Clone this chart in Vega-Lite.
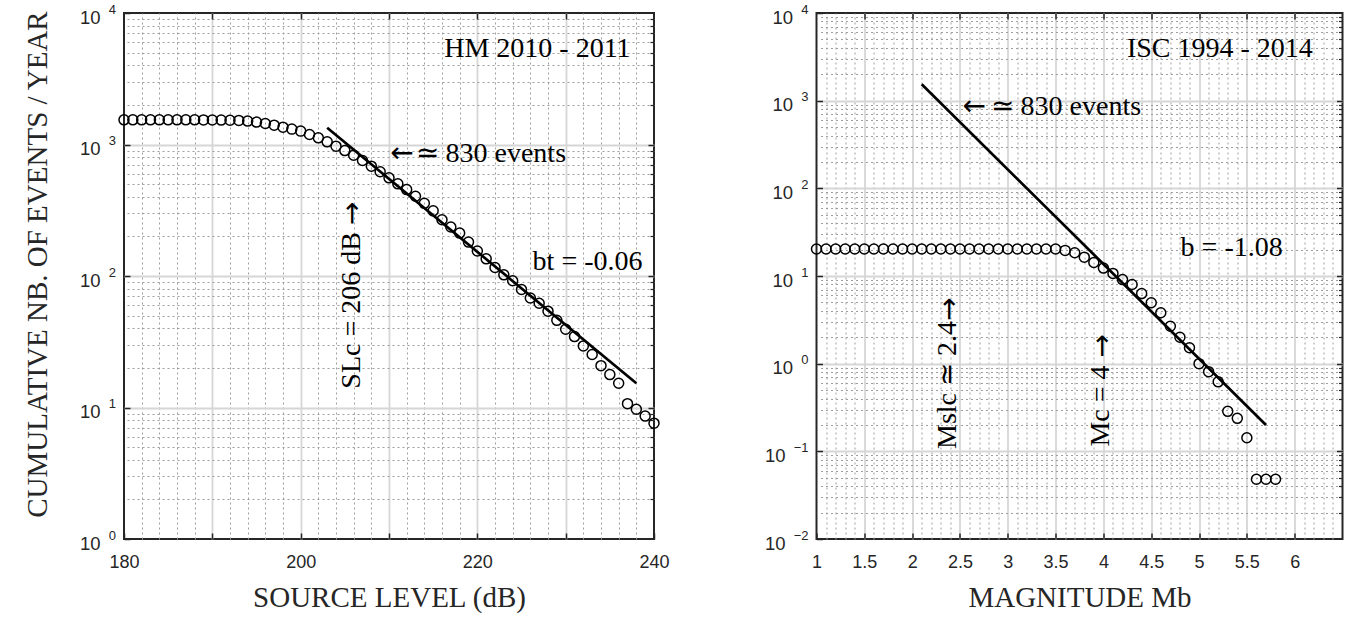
{
  "$schema": "https://vega.github.io/schema/vega-lite/v6.json",
  "background": "#ffffff",
  "autosize": {"type": "pad"},
  "padding": {"left": 21, "top": 2, "right": 4, "bottom": 0},
  "bounds": "flush",
  "spacing": 162.5,
  "config": {
    "view": {"stroke": "#262626", "strokeWidth": 2},
    "axis": {
      "domain": false,
      "labelFont": "Liberation Sans",
      "labelFontSize": 18,
      "labelColor": "#262626",
      "labelOverlap": false,
      "labelFlush": false,
      "titleFont": "Liberation Serif",
      "titleFontSize": 29,
      "titleFontWeight": "normal",
      "titleColor": "#262626",
      "tickColor": "#262626",
      "tickWidth": 1.5,
      "gridColor": "#d6d6d6",
      "gridWidth": 1.8
    },
    "text": {"font": "Liberation Serif", "fontSize": 28, "color": "#000000"}
  },
  "datasets": {
    "hm": [
      {"sl": 180, "n": 1540}, {"sl": 181, "n": 1540}, {"sl": 182, "n": 1540}, {"sl": 183, "n": 1540},
      {"sl": 184, "n": 1540}, {"sl": 185, "n": 1540}, {"sl": 186, "n": 1540}, {"sl": 187, "n": 1540},
      {"sl": 188, "n": 1540}, {"sl": 189, "n": 1538}, {"sl": 190, "n": 1536}, {"sl": 191, "n": 1533},
      {"sl": 192, "n": 1529}, {"sl": 193, "n": 1524}, {"sl": 194, "n": 1507}, {"sl": 195, "n": 1480},
      {"sl": 196, "n": 1445}, {"sl": 197, "n": 1403}, {"sl": 198, "n": 1355}, {"sl": 199, "n": 1309},
      {"sl": 200, "n": 1264}, {"sl": 201, "n": 1191}, {"sl": 202, "n": 1124}, {"sl": 203, "n": 1048},
      {"sl": 204, "n": 971}, {"sl": 205, "n": 899}, {"sl": 206, "n": 830}, {"sl": 207, "n": 756},
      {"sl": 208, "n": 684}, {"sl": 209, "n": 620}, {"sl": 210, "n": 558}, {"sl": 211, "n": 502},
      {"sl": 212, "n": 454}, {"sl": 213, "n": 404}, {"sl": 214, "n": 357}, {"sl": 215, "n": 313},
      {"sl": 216, "n": 268}, {"sl": 217, "n": 236}, {"sl": 218, "n": 212}, {"sl": 219, "n": 181},
      {"sl": 220, "n": 155}, {"sl": 221, "n": 135}, {"sl": 222, "n": 116}, {"sl": 223, "n": 102},
      {"sl": 224, "n": 92}, {"sl": 225, "n": 79}, {"sl": 226, "n": 68}, {"sl": 227, "n": 62},
      {"sl": 228, "n": 54}, {"sl": 229, "n": 46}, {"sl": 230, "n": 39.4}, {"sl": 231, "n": 34.6},
      {"sl": 232, "n": 29.4}, {"sl": 233, "n": 25.3}, {"sl": 234, "n": 20.8}, {"sl": 235, "n": 17.8},
      {"sl": 236, "n": 15.3}, {"sl": 237, "n": 10.7}, {"sl": 238, "n": 9.7}, {"sl": 239, "n": 8.6},
      {"sl": 240, "n": 7.6}
    ],
    "hmFit": [{"sl": 203, "n": 1340}, {"sl": 238, "n": 15.3}],
    "isc": [
      {"mag": 1.0, "n": 20.33}, {"mag": 1.1, "n": 20.33}, {"mag": 1.2, "n": 20.33}, {"mag": 1.3, "n": 20.33},
      {"mag": 1.4, "n": 20.33}, {"mag": 1.5, "n": 20.33}, {"mag": 1.6, "n": 20.33}, {"mag": 1.7, "n": 20.33},
      {"mag": 1.8, "n": 20.33}, {"mag": 1.9, "n": 20.33}, {"mag": 2.0, "n": 20.33}, {"mag": 2.1, "n": 20.33},
      {"mag": 2.2, "n": 20.33}, {"mag": 2.3, "n": 20.33}, {"mag": 2.4, "n": 20.33}, {"mag": 2.5, "n": 20.33},
      {"mag": 2.6, "n": 20.33}, {"mag": 2.7, "n": 20.33}, {"mag": 2.8, "n": 20.33}, {"mag": 2.9, "n": 20.33},
      {"mag": 3.0, "n": 20.33}, {"mag": 3.1, "n": 20.33}, {"mag": 3.2, "n": 20.33}, {"mag": 3.3, "n": 20.33},
      {"mag": 3.4, "n": 20.33}, {"mag": 3.5, "n": 20.33}, {"mag": 3.6, "n": 19.6}, {"mag": 3.7, "n": 18.4},
      {"mag": 3.8, "n": 16.4}, {"mag": 3.9, "n": 14.3}, {"mag": 4.0, "n": 12.3}, {"mag": 4.1, "n": 10.7},
      {"mag": 4.2, "n": 9.1}, {"mag": 4.3, "n": 8.0}, {"mag": 4.4, "n": 6.3}, {"mag": 4.5, "n": 4.95},
      {"mag": 4.6, "n": 3.81}, {"mag": 4.7, "n": 2.67}, {"mag": 4.8, "n": 2.0}, {"mag": 4.9, "n": 1.52},
      {"mag": 5.0, "n": 1.0}, {"mag": 5.1, "n": 0.81}, {"mag": 5.2, "n": 0.62}, {"mag": 5.3, "n": 0.286},
      {"mag": 5.4, "n": 0.238}, {"mag": 5.5, "n": 0.143}, {"mag": 5.6, "n": 0.048}, {"mag": 5.7, "n": 0.048},
      {"mag": 5.8, "n": 0.048}
    ],
    "iscFit": [{"mag": 2.1, "n": 1540}, {"mag": 5.7, "n": 0.2}]
  },
  "hconcat": [
    {
      "width": 530,
      "height": 526,
      "resolve": {"axis": {"x": "independent", "y": "independent"}},
      "layer": [
        {
          "data": {"name": "hm"},
          "mark": {"type": "point", "shape": "circle", "filled": false, "stroke": "#000000", "strokeWidth": 1.5, "size": 100, "opacity": 1},
          "encoding": {
            "x": {
              "field": "sl", "type": "quantitative",
              "scale": {"domain": [180, 240], "nice": false, "zero": false},
              "axis": {
                "orient": "bottom",
                "values": [180, 190, 200, 210, 220, 230, 240],
                "labelExpr": "datum.value % 20 == 0 ? datum.label : ''",
                "grid": true,
                "gridOpacity": {"condition": {"test": "datum.value <= 180 || datum.value >= 240", "value": 0}, "value": 1},
                "tickSize": -6,
                "labelPadding": 20.5,
                "title": "SOURCE LEVEL (dB)",
                "titleY": 67,
                "titleBaseline": "alphabetic"
              }
            },
            "y": {
              "field": "n", "type": "quantitative",
              "scale": {"type": "log", "domain": [1, 10000], "nice": false},
              "axis": {
                "orient": "left",
                "values": [1, 10, 100, 1000, 10000],
                "labels": false,
                "grid": true,
                "gridOpacity": {"condition": {"test": "datum.value <= 1 || datum.value >= 10000", "value": 0}, "value": 1},
                "tickSize": -6,
                "title": "CUMULATIVE NB. OF EVENTS / YEAR",
                "titleX": -78,
                "titleY": 251,
                "titleAngle": 270,
                "titleAlign": "center",
                "titleBaseline": "alphabetic"
              }
            }
          }
        },
        {
          "data": {"name": "hmFit"},
          "mark": {"type": "line", "color": "#000000", "strokeWidth": 2.7},
          "encoding": {
            "x": {
              "field": "sl", "type": "quantitative",
              "axis": {
                "orient": "top",
                "values": [182, 184, 186, 188, 192, 194, 196, 198, 202, 204, 206, 208, 212, 214, 216, 218, 222, 224, 226, 228, 232, 234, 236, 238],
                "grid": true, "gridDash": [2, 3], "gridColor": "#9e9e9e", "gridWidth": 1,
                "ticks": false, "labels": false, "title": null
              }
            },
            "y": {
              "field": "n", "type": "quantitative",
              "axis": {
                "orient": "right",
                "values": [2, 3, 4, 5, 6, 7, 8, 9, 20, 30, 40, 50, 60, 70, 80, 90, 200, 300, 400, 500, 600, 700, 800, 900, 2000, 3000, 4000, 5000, 6000, 7000, 8000, 9000],
                "grid": true, "gridDash": [2, 3], "gridColor": "#9e9e9e", "gridWidth": 1,
                "ticks": true, "tickSize": -4, "tickWidth": 1.2, "labels": false, "title": null
              }
            }
          }
        },
        {
          "data": {"values": [
            {"sl": 237.35, "n": 4640, "label": "HM 2010 - 2011"},
            {"sl": 238.7, "n": 112, "label": "bt = -0.06"}
          ]},
          "mark": {"type": "text", "align": "right", "baseline": "alphabetic"},
          "encoding": {
            "x": {
              "field": "sl", "type": "quantitative",
              "axis": {"orient": "top", "values": [190, 200, 210, 220, 230], "grid": false, "tickSize": -6, "labels": false, "title": null}
            },
            "y": {
              "field": "n", "type": "quantitative",
              "axis": {"orient": "right", "values": [10, 100, 1000], "grid": false, "tickSize": -6, "labels": false, "title": null}
            },
            "text": {"field": "label"}
          }
        },
        {
          "data": {"values": [
            {"sl": 213.0, "n": 738, "label": "≃ 830 events"}
          ]},
          "mark": {"type": "text", "align": "left", "baseline": "alphabetic"},
          "encoding": {
            "x": {"field": "sl", "type": "quantitative", "axis": null},
            "y": {
              "field": "n", "type": "quantitative",
              "axis": {
                "orient": "left", "values": [1, 10, 100, 1000, 10000],
                "labelExpr": "'10'",
                "labelFontSize": 18.5, "labelBaseline": "alphabetic", "labelOffset": 10, "labelPadding": 24,
                "ticks": false, "grid": false, "title": null
              }
            },
            "text": {"field": "label"}
          }
        },
        {
          "data": {"values": [
            {"sl": 205.8, "n": 54.8, "label": "SLc = 206 dB"}
          ]},
          "mark": {"type": "text", "align": "center", "baseline": "middle", "angle": 270},
          "encoding": {
            "x": {"field": "sl", "type": "quantitative", "axis": null},
            "y": {
              "field": "n", "type": "quantitative",
              "axis": {
                "orient": "left", "values": [1, 10, 100, 1000, 10000],
                "labelExpr": "datum.value == 1 ? '0' : datum.value == 10 ? '1' : datum.value == 100 ? '2' : datum.value == 1000 ? '3' : '4'",
                "labelFontSize": 13, "labelBaseline": "alphabetic", "labelOffset": 0, "labelPadding": 8.5,
                "ticks": false, "grid": false, "title": null
              }
            },
            "text": {"field": "label"}
          }
        },
        {
          "data": {"values": [
            {"sl": 210.15, "n": 738, "label": "←"}
          ]},
          "mark": {"type": "text", "align": "left", "baseline": "alphabetic", "font": "DejaVu Sans"},
          "encoding": {
            "x": {"field": "sl", "type": "quantitative", "axis": null},
            "y": {"field": "n", "type": "quantitative", "axis": null},
            "text": {"field": "label"}
          }
        },
        {
          "data": {"values": [
            {"sl": 205.9, "n": 300, "label": "→"}
          ]},
          "mark": {"type": "text", "align": "center", "baseline": "middle", "angle": 270, "font": "DejaVu Sans"},
          "encoding": {
            "x": {"field": "sl", "type": "quantitative", "axis": null},
            "y": {"field": "n", "type": "quantitative", "axis": null},
            "text": {"field": "label"}
          }
        }
      ]
    },
    {
      "width": 526,
      "height": 526,
      "resolve": {"axis": {"x": "independent", "y": "independent"}},
      "layer": [
        {
          "data": {"name": "isc"},
          "mark": {"type": "point", "shape": "circle", "filled": false, "stroke": "#000000", "strokeWidth": 1.5, "size": 100, "opacity": 1},
          "encoding": {
            "x": {
              "field": "mag", "type": "quantitative",
              "scale": {"domain": [1, 6.5], "nice": false, "zero": false},
              "axis": {
                "orient": "bottom",
                "values": [1, 1.5, 2, 2.5, 3, 3.5, 4, 4.5, 5, 5.5, 6],
                "format": "~g",
                "grid": true,
                "gridOpacity": {"condition": {"test": "datum.value <= 1", "value": 0}, "value": 1},
                "tickSize": -6,
                "labelPadding": 20.5,
                "title": "MAGNITUDE Mb",
                "titleY": 67,
                "titleBaseline": "alphabetic"
              }
            },
            "y": {
              "field": "n", "type": "quantitative",
              "scale": {"type": "log", "domain": [0.01, 10000], "nice": false},
              "axis": {
                "orient": "left",
                "values": [0.01, 0.1, 1, 10, 100, 1000, 10000],
                "labels": false,
                "grid": true,
                "gridOpacity": {"condition": {"test": "datum.value <= 0.01 || datum.value >= 10000", "value": 0}, "value": 1},
                "tickSize": -6,
                "title": null
              }
            }
          }
        },
        {
          "data": {"name": "iscFit"},
          "mark": {"type": "line", "color": "#000000", "strokeWidth": 2.7},
          "encoding": {
            "x": {
              "field": "mag", "type": "quantitative",
              "axis": {
                "orient": "top",
                "values": [1.1, 1.2, 1.3, 1.4, 1.6, 1.7, 1.8, 1.9, 2.1, 2.2, 2.3, 2.4, 2.6, 2.7, 2.8, 2.9, 3.1, 3.2, 3.3, 3.4, 3.6, 3.7, 3.8, 3.9, 4.1, 4.2, 4.3, 4.4, 4.6, 4.7, 4.8, 4.9, 5.1, 5.2, 5.3, 5.4, 5.6, 5.7, 5.8, 5.9, 6.1, 6.2, 6.3, 6.4],
                "grid": true, "gridDash": [2, 3], "gridColor": "#9e9e9e", "gridWidth": 1,
                "ticks": false, "labels": false, "title": null
              }
            },
            "y": {
              "field": "n", "type": "quantitative",
              "axis": {
                "orient": "right",
                "values": [0.02, 0.03, 0.04, 0.05, 0.06, 0.07, 0.08, 0.09, 0.2, 0.3, 0.4, 0.5, 0.6, 0.7, 0.8, 0.9, 2, 3, 4, 5, 6, 7, 8, 9, 20, 30, 40, 50, 60, 70, 80, 90, 200, 300, 400, 500, 600, 700, 800, 900, 2000, 3000, 4000, 5000, 6000, 7000, 8000, 9000],
                "grid": true, "gridDash": [2, 3], "gridColor": "#9e9e9e", "gridWidth": 1,
                "ticks": true, "tickSize": -4, "tickWidth": 1.2, "labels": false, "title": null
              }
            }
          }
        },
        {
          "data": {"values": [
            {"mag": 6.19, "n": 3150, "label": "ISC 1994 - 2014"},
            {"mag": 5.875, "n": 16.8, "label": "b = -1.08"}
          ]},
          "mark": {"type": "text", "align": "right", "baseline": "alphabetic"},
          "encoding": {
            "x": {
              "field": "mag", "type": "quantitative",
              "axis": {"orient": "top", "values": [1.5, 2, 2.5, 3, 3.5, 4, 4.5, 5, 5.5, 6], "grid": false, "tickSize": -6, "labels": false, "title": null}
            },
            "y": {
              "field": "n", "type": "quantitative",
              "axis": {"orient": "right", "values": [0.1, 1, 10, 100, 1000], "grid": false, "tickSize": -6, "labels": false, "title": null}
            },
            "text": {"field": "label"}
          }
        },
        {
          "data": {"values": [
            {"mag": 2.82, "n": 692, "label": "≃ 830 events"}
          ]},
          "mark": {"type": "text", "align": "left", "baseline": "alphabetic"},
          "encoding": {
            "x": {"field": "mag", "type": "quantitative", "axis": null},
            "y": {
              "field": "n", "type": "quantitative",
              "axis": {
                "orient": "left", "values": [0.01, 0.1, 1, 10, 100, 1000, 10000],
                "labelExpr": "'10'",
                "labelFontSize": 18.5, "labelBaseline": "alphabetic", "labelOffset": 10,
                "labelPadding": {"condition": {"test": "datum.value < 1", "value": 31.5}, "value": 24},
                "ticks": false, "grid": false, "title": null
              }
            },
            "text": {"field": "label"}
          }
        },
        {
          "data": {"values": [
            {"mag": 2.37, "n": 0.571, "label": "Mslc ≃ 2.4"},
            {"mag": 3.98, "n": 0.329, "label": "Mc = 4"}
          ]},
          "mark": {"type": "text", "align": "center", "baseline": "middle", "angle": 270},
          "encoding": {
            "x": {"field": "mag", "type": "quantitative", "axis": null},
            "y": {
              "field": "n", "type": "quantitative",
              "axis": {
                "orient": "left", "values": [0.01, 0.1, 1, 10, 100, 1000, 10000],
                "labelExpr": "datum.value == 0.01 ? '−2' : datum.value == 0.1 ? '−1' : datum.value == 1 ? '0' : datum.value == 10 ? '1' : datum.value == 100 ? '2' : datum.value == 1000 ? '3' : '4'",
                "labelFontSize": 13, "labelBaseline": "alphabetic", "labelOffset": 0, "labelPadding": 8.5,
                "ticks": false, "grid": false, "title": null
              }
            },
            "text": {"field": "label"}
          }
        },
        {
          "data": {"values": [
            {"mag": 2.527, "n": 692, "label": "←"}
          ]},
          "mark": {"type": "text", "align": "left", "baseline": "alphabetic", "font": "DejaVu Sans"},
          "encoding": {
            "x": {"field": "mag", "type": "quantitative", "axis": null},
            "y": {"field": "n", "type": "quantitative", "axis": null},
            "text": {"field": "label"}
          }
        },
        {
          "data": {"values": [
            {"mag": 2.4, "n": 4.2, "label": "→"},
            {"mag": 4.0, "n": 1.6, "label": "→"}
          ]},
          "mark": {"type": "text", "align": "center", "baseline": "middle", "angle": 270, "font": "DejaVu Sans"},
          "encoding": {
            "x": {"field": "mag", "type": "quantitative", "axis": null},
            "y": {"field": "n", "type": "quantitative", "axis": null},
            "text": {"field": "label"}
          }
        }
      ]
    }
  ]
}
